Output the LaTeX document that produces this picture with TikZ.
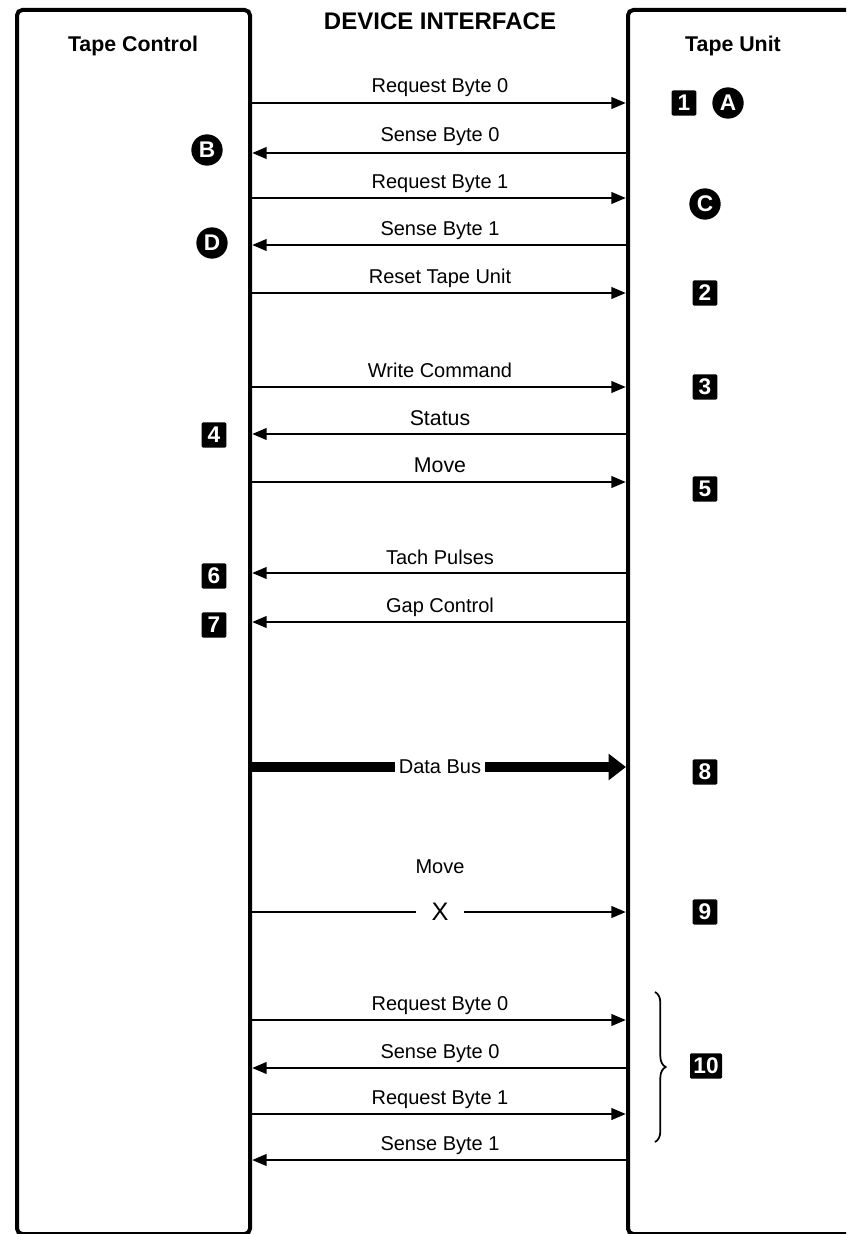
\documentclass[tikz,border=0pt]{standalone}
\usepackage{fontspec}
\setmainfont{Liberation Sans}
\usetikzlibrary{arrows.meta,decorations.pathreplacing}
\begin{document}
\begin{tikzpicture}[x=0.75pt,y=-0.75pt,
  lbl/.style={font=\fontsize{15}{18}\selectfont, inner sep=0pt, anchor=base},
  sig/.style={line width=2.2pt, -{Triangle[length=11pt,width=8.5pt]}},
  bus/.style={line width=7pt, -{Triangle[length=13pt,width=19pt]}},
  boxline/.style={line width=3pt, rounded corners=4pt},
  sq/.style={fill=black, text=white, font=\fontsize{17}{20}\selectfont\bfseries, minimum width=18.5pt, minimum height=19pt, inner sep=0pt, rounded corners=1pt},
  circ/.style={circle, fill=black, text=white, font=\fontsize{17}{20}\selectfont\bfseries, minimum size=23.5pt, inner sep=0pt},
  head/.style={font=\fontsize{16}{19}\selectfont\bfseries, inner sep=0pt, anchor=base}]
\useasboundingbox (0,0) rectangle (846,1234);
\begin{scope}
\clip (0,0) rectangle (846,1234);
% boxes
\draw[boxline] (17,1234) rectangle (250,10);
\draw[boxline] (628,1234) rectangle (900,10);
\end{scope}
% headings
\node[head, font=\fontsize{18}{21}\selectfont\bfseries] (title) at (440,30) {DEVICE INTERFACE};
\node[head] (tc) at (133,52) {Tape Control};
\node[head] (tu) at (733,52) {Tape Unit};
% endpoints
\foreach \n/\y in {1/103,2/153,3/198,4/245,5/293,6/387,7/434,8/482,9/573,10/622,11/767,12/912,13/1020,14/1068,15/1114,16/1160}{
  \coordinate (L\n) at (252,\y);
  \coordinate (R\n) at (626,\y);
}
% arrows
\draw[sig] (L1) -- (R1);
\draw[sig] (R2) -- (L2);
\draw[sig] (L3) -- (R3);
\draw[sig] (R4) -- (L4);
\draw[sig] (L5) -- (R5);
\draw[sig] (L6) -- (R6);
\draw[sig] (R7) -- (L7);
\draw[sig] (L8) -- (R8);
\draw[sig] (R9) -- (L9);
\draw[sig] (R10) -- (L10);
\draw[bus] (L11) -- (R11);
\node[fill=white, inner xsep=3pt, inner ysep=6pt, font=\fontsize{15}{18}\selectfont] (db) at (440,767) {Data Bus};
\draw[sig] (L12) -- (R12);
\node[fill=white, inner xsep=12pt, inner ysep=2pt, font=\fontsize{19}{22}\selectfont] (x) at (440,912) {X};
\draw[sig] (L13) -- (R13);
\draw[sig] (R14) -- (L14);
\draw[sig] (L15) -- (R15);
\draw[sig] (R16) -- (L16);
% labels
\node[lbl] (t1) at (440,93) {Request Byte 0};
\node[lbl] (t2) at (440,142) {Sense Byte 0};
\node[lbl] (t3) at (440,188) {Request Byte 1};
\node[lbl] (t4) at (440,235) {Sense Byte 1};
\node[lbl] (t5) at (440,283) {Reset Tape Unit};
\node[lbl] (t6) at (440,377) {Write Command};
\node[lbl, font=\fontsize{16}{19}\selectfont] (t7) at (440,425) {Status};
\node[lbl, font=\fontsize{16}{19}\selectfont] (t8) at (440,472) {Move};
\node[lbl] (t9) at (440,564) {Tach Pulses};
\node[lbl] (t10) at (440,612) {Gap Control};
\node[lbl] (t12) at (440,873) {Move};
\node[lbl] (t13) at (440,1010) {Request Byte 0};
\node[lbl] (t14) at (440,1058) {Sense Byte 0};
\node[lbl] (t15) at (440,1104) {Request Byte 1};
\node[lbl] (t16) at (440,1150) {Sense Byte 1};
% badges
\node[sq] (b1) at (684,103) {1};
\node[circ] (cA) at (728,103) {A};
\node[circ] (cB) at (207,150) {B};
\node[circ] (cC) at (705,204) {C};
\node[circ] (cD) at (212,243) {D};
\node[sq] (b2) at (705,293) {2};
\node[sq] (b3) at (705,387) {3};
\node[sq] (b4) at (214,435) {4};
\node[sq] (b5) at (705,489) {5};
\node[sq] (b6) at (214,576) {6};
\node[sq] (b7) at (214,625) {7};
\node[sq] (b8) at (705,772) {8};
\node[sq] (b9) at (705,912) {9};
\node[sq, minimum width=24pt] (b10) at (706,1066) {10};
\draw[decorate, decoration={brace, amplitude=8pt}, line width=1.3pt] (655,992) -- (655,1142);
\end{tikzpicture}
\end{document}
